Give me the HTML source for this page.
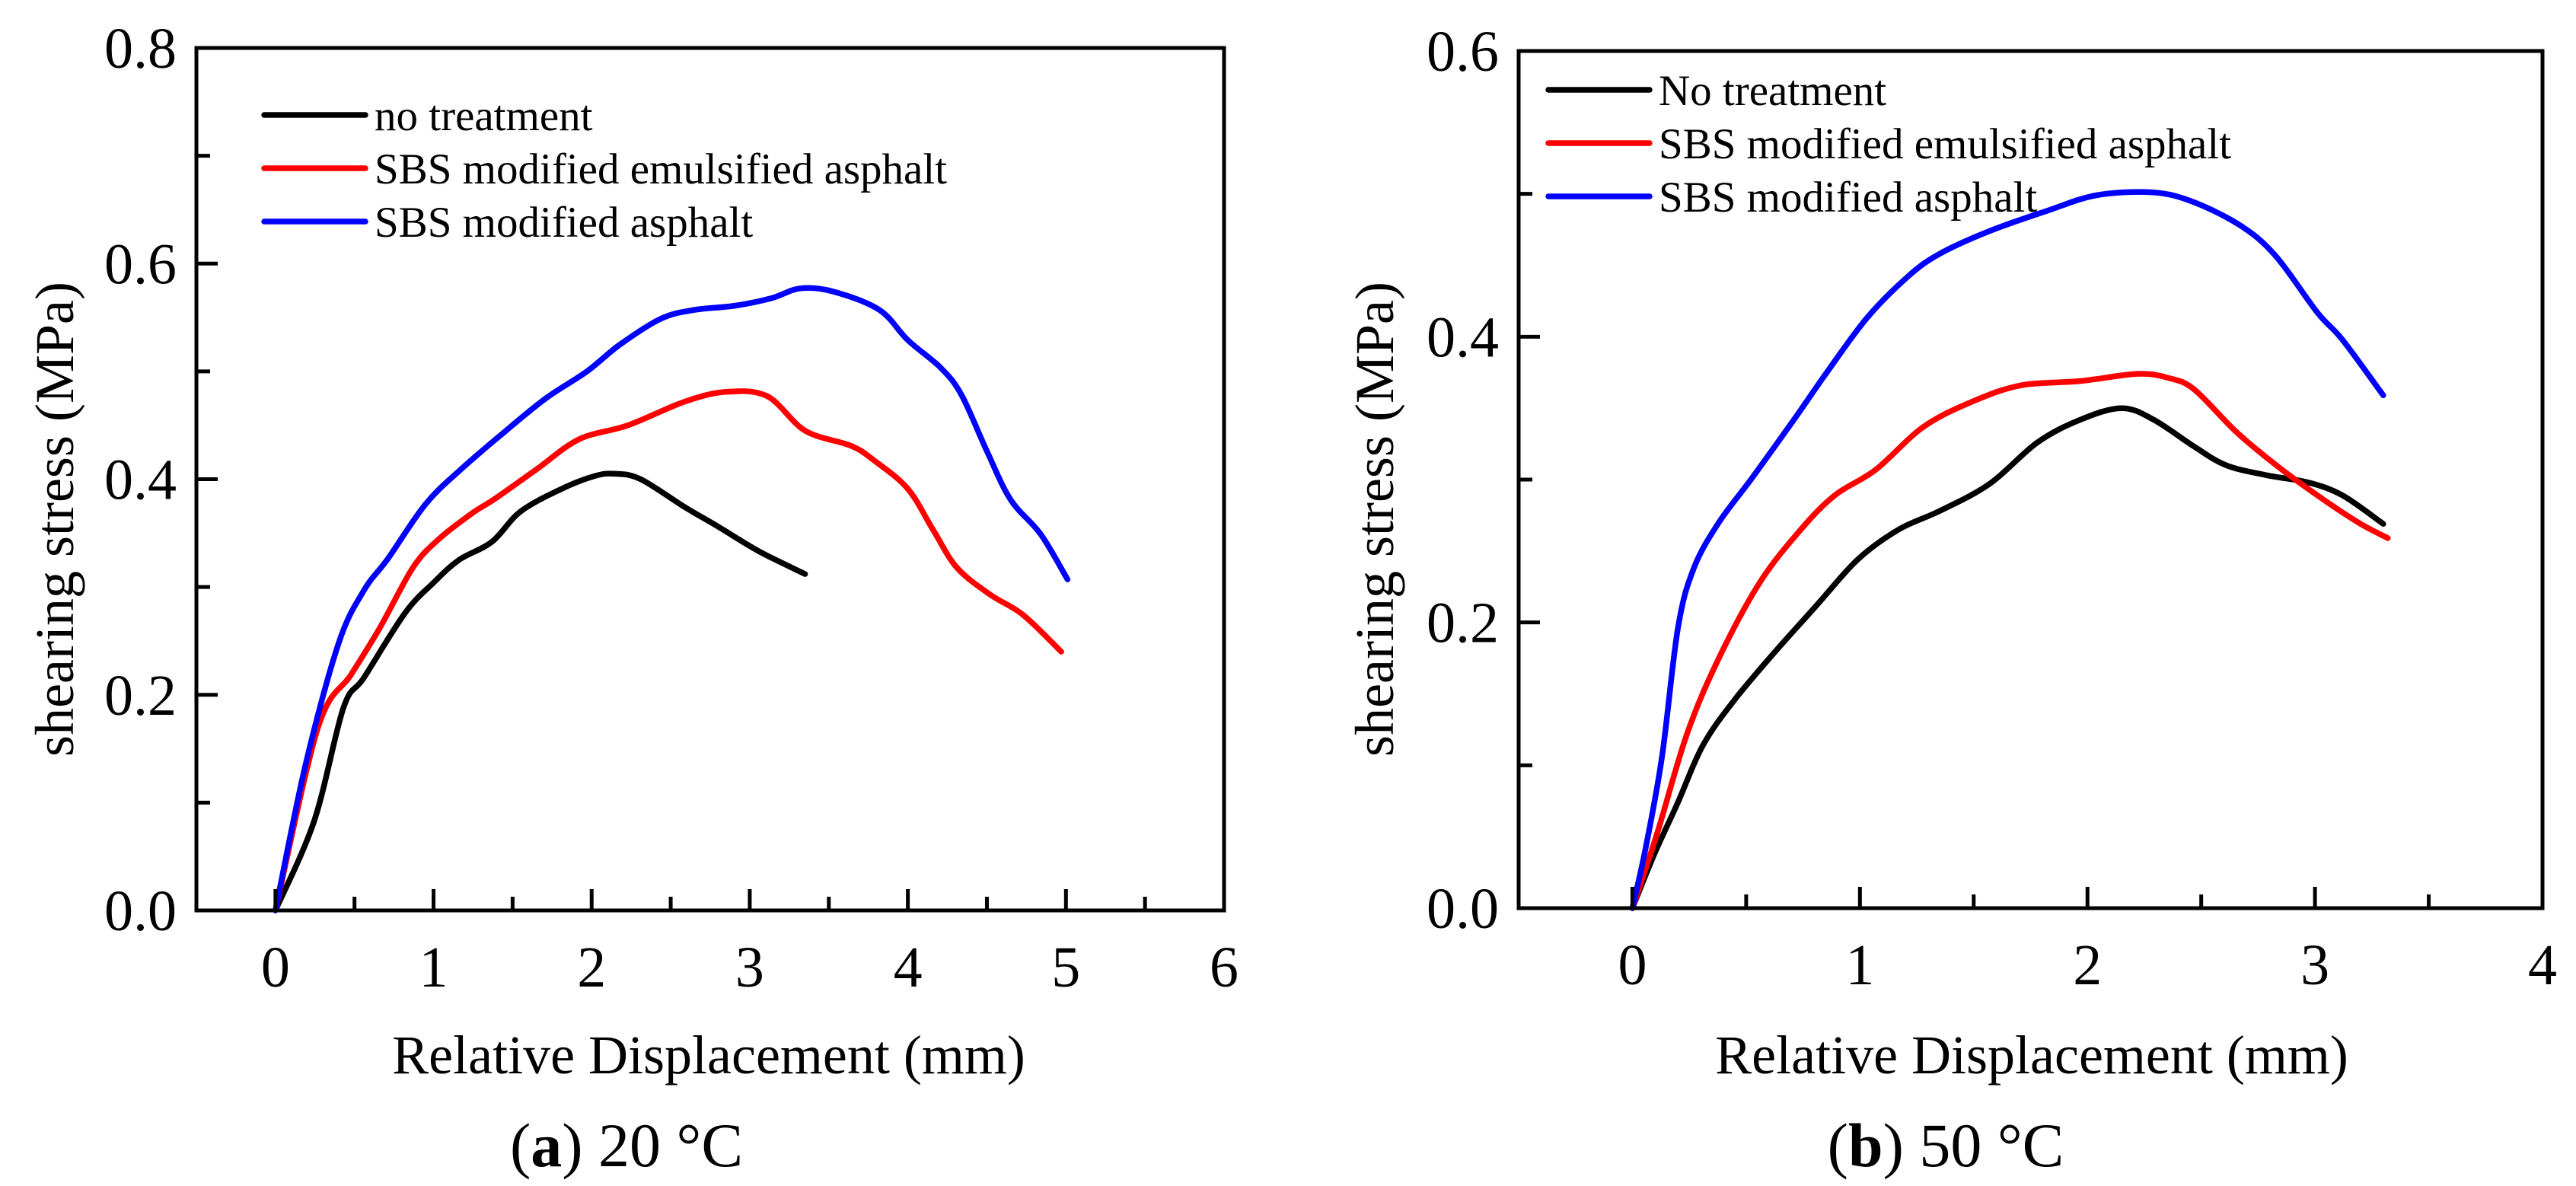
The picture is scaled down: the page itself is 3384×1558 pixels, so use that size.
<!DOCTYPE html>
<html><head><meta charset="utf-8"><style>
html,body{margin:0;padding:0;background:#fff;}
svg{display:block;}
text{font-family:"Liberation Serif",serif;fill:#000;}
</style></head><body>
<svg id="fig" width="3384" height="1558" viewBox="0 0 3384 1558" xmlns="http://www.w3.org/2000/svg"></svg>
<script>
// ---- Chart (a) 20 °C data ----
const aNoX = [0,0.245,0.43,0.56,0.82,1.0,1.16,1.37,1.55,1.81,2.02,2.15,2.31,2.59,2.80,3.06,3.35];
const aNoY = [0,0.083,0.188,0.216,0.276,0.304,0.325,0.342,0.370,0.391,0.403,0.405,0.400,0.374,0.356,0.333,0.312];
const aEmX = [0,0.27,0.48,0.66,0.87,1.03,1.24,1.39,1.65,1.92,2.23,2.59,2.85,3.11,3.35,3.64,3.79,4.0,4.16,4.31,4.52,4.73,4.97];
const aEmY = [0,0.170,0.219,0.262,0.318,0.344,0.368,0.382,0.409,0.437,0.450,0.472,0.481,0.477,0.445,0.431,0.417,0.391,0.353,0.318,0.293,0.274,0.240];
const aSbX = [0,0.19,0.40,0.56,0.71,0.95,1.18,1.45,1.71,1.97,2.18,2.44,2.65,2.91,3.14,3.32,3.53,3.82,4.0,4.21,4.34,4.50,4.65,4.84,5.01];
const aSbY = [0,0.135,0.248,0.297,0.326,0.377,0.410,0.444,0.475,0.500,0.525,0.549,0.557,0.561,0.568,0.577,0.574,0.557,0.529,0.503,0.478,0.426,0.381,0.349,0.307];
const aXTicks = ["0","1","2","3","4","5","6"];
const aYTicks = ["0.0","0.2","0.4","0.6","0.8"];
// ---- Chart (b) 50 °C data ----
const bNoX = [0,0.094,0.20,0.31,0.45,0.63,0.81,0.99,1.17,1.35,1.57,1.78,1.97,2.15,2.29,2.47,2.61,2.79,2.97,3.12,3.30];
const bNoY = [0,0.037,0.074,0.114,0.146,0.180,0.212,0.244,0.265,0.278,0.297,0.326,0.342,0.350,0.342,0.323,0.310,0.303,0.298,0.289,0.269];
const bEmX = [0,0.11,0.24,0.38,0.56,0.74,0.89,1.07,1.28,1.50,1.71,1.97,2.22,2.36,2.47,2.65,2.83,3.01,3.19,3.32];
const bEmY = [0,0.053,0.122,0.175,0.228,0.265,0.289,0.307,0.337,0.355,0.366,0.369,0.374,0.371,0.363,0.334,0.310,0.289,0.270,0.259];
const bSbX = [0,0.058,0.13,0.20,0.27,0.38,0.53,0.71,0.85,1.03,1.21,1.35,1.57,1.82,2.04,2.29,2.47,2.68,2.83,3.01,3.12,3.30];
const bSbY = [0,0.042,0.106,0.196,0.238,0.270,0.302,0.342,0.374,0.413,0.442,0.458,0.474,0.488,0.499,0.501,0.494,0.477,0.456,0.417,0.398,0.359];
const bXTicks = ["0","1","2","3","4"];
const bYTicks = ["0.0","0.2","0.4","0.6"];
const aLegend = ["no treatment","SBS modified emulsified asphalt","SBS modified asphalt"];
const bLegend = ["No treatment","SBS modified emulsified asphalt","SBS modified asphalt"];

const NS="http://www.w3.org/2000/svg";
const svg=document.getElementById('fig');
function mk(tag,attrs,parent,txt){const e=document.createElementNS(NS,tag);for(const k in attrs)e.setAttribute(k,attrs[k]);if(txt!==undefined)e.textContent=txt;(parent||svg).appendChild(e);return e;}

function smoothPath(P){
  let d='M'+P[0][0].toFixed(1)+','+P[0][1].toFixed(1);
  for(let i=0;i<P.length-1;i++){
    const p0=P[i-1]||P[i],p1=P[i],p2=P[i+1],p3=P[i+2]||P[i+1];
    const c1=[p1[0]+(p2[0]-p0[0])/6,p1[1]+(p2[1]-p0[1])/6];
    const c2=[p2[0]-(p3[0]-p1[0])/6,p2[1]-(p3[1]-p1[1])/6];
    d+=' C'+c1[0].toFixed(1)+','+c1[1].toFixed(1)+' '+c2[0].toFixed(1)+','+c2[1].toFixed(1)+' '+p2[0].toFixed(1)+','+p2[1].toFixed(1);
  }
  return d;
}

function chart(cfg){
  const g=mk('g',{});
  
  
  const L=cfg.L,R=cfg.R,T=cfg.T,B=cfg.B;
  const sx=v=>L+(v-cfg.xmin)/(cfg.xmax-cfg.xmin)*(R-L);
  const sy=v=>B-(v-cfg.ymin)/(cfg.ymax-cfg.ymin)*(B-T);
  cfg.series.forEach(s=>{
    const P=s.x.map((v,i)=>[sx(v),sy(s.y[i])]);
    const p=mk('path',{d:smoothPath(P),fill:'none',stroke:s.color,'stroke-width':7.5,'stroke-linejoin':'round','stroke-linecap':'round'},g);
    
    
  });
  const f=mk('rect',{x:L,y:T,width:R-L,height:B-T,fill:'none',stroke:'#000','stroke-width':5},g);
  
  
  for(let v=cfg.xmin;v<=cfg.xmax+1e-9;v+=0.5){
    const major=Math.abs(v-Math.round(v))<1e-9;
    mk('line',{x1:sx(v),x2:sx(v),y1:B,y2:B-(major?28:18),stroke:'#000','stroke-width':5},g);
  }
  cfg.xt.forEach(t=>{
    const tx=mk('text',{x:sx(parseFloat(t)),y:B+100,'font-size':76,'text-anchor':'middle'},g,t);
    
    
  });
  for(let v=cfg.ymin;v<=cfg.ymax+1e-9;v+=0.1){
    const major=Math.abs(v*5-Math.round(v*5))<1e-9;
    mk('line',{x1:L,x2:L+(major?28:18),y1:sy(v),y2:sy(v),stroke:'#000','stroke-width':5},g);
  }
  cfg.yt.forEach(t=>{
    const ty=mk('text',{x:L-26,y:sy(parseFloat(t))+26,'font-size':76,'text-anchor':'end'},g,t);
    
    
  });
  const xt=mk('text',{x:cfg.xtx,y:1410,'font-size':72,'text-anchor':'middle'},g,'Relative Displacement (mm)');
  
  
  const yt=mk('text',{x:0,y:0,'font-size':72,'text-anchor':'middle',transform:`translate(${cfg.ytx},682) rotate(-90)`},g,'shearing stress (MPa)');
  
  
  cfg.legend.forEach((t,i)=>{
    const y=cfg.legY+i*70;
    const ln=mk('line',{x1:cfg.legX,x2:cfg.legX+133,y1:y,y2:y,stroke:cfg.series[i].color,'stroke-width':7.5,'stroke-linecap':'round'},g);
    
    
    const tt=mk('text',{x:cfg.legX+145,y:y+20,'font-size':57},g,t);
    
    
  });
  const cap=mk('text',{x:cfg.capX,y:1532,'font-size':82,'text-anchor':'middle'},g);
  
  
  mk('tspan',{},cap,'(');
  mk('tspan',{'font-weight':'bold'},cap,cfg.letter);
  mk('tspan',{},cap,') '+cfg.temp);
}

chart({name:'chart-a-20c',L:258,R:1608,T:63,B:1196,xmin:-0.5,xmax:6,ymin:0,ymax:0.8,
  xt:aXTicks,yt:aYTicks,xtx:931,ytx:96,legX:347,legY:151,capX:823,letter:'a',temp:'20 °C',legend:aLegend,
  series:[{x:aNoX,y:aNoY,color:'#000',name:'no-treatment-line'},{x:aEmX,y:aEmY,color:'#ff0000',name:'sbs-emulsified-line'},{x:aSbX,y:aSbY,color:'#0000ff',name:'sbs-asphalt-line'}]});
chart({name:'chart-b-50c',L:1995,R:3340,T:67,B:1193,xmin:-0.5,xmax:4,ymin:0,ymax:0.6,
  xt:bXTicks,yt:bYTicks,xtx:2669,ytx:1830,legX:2034,legY:118,capX:2556,letter:'b',temp:'50 °C',legend:bLegend,
  series:[{x:bNoX,y:bNoY,color:'#000',name:'no-treatment-line'},{x:bEmX,y:bEmY,color:'#ff0000',name:'sbs-emulsified-line'},{x:bSbX,y:bSbY,color:'#0000ff',name:'sbs-asphalt-line'}]});
</script>
</body></html>
